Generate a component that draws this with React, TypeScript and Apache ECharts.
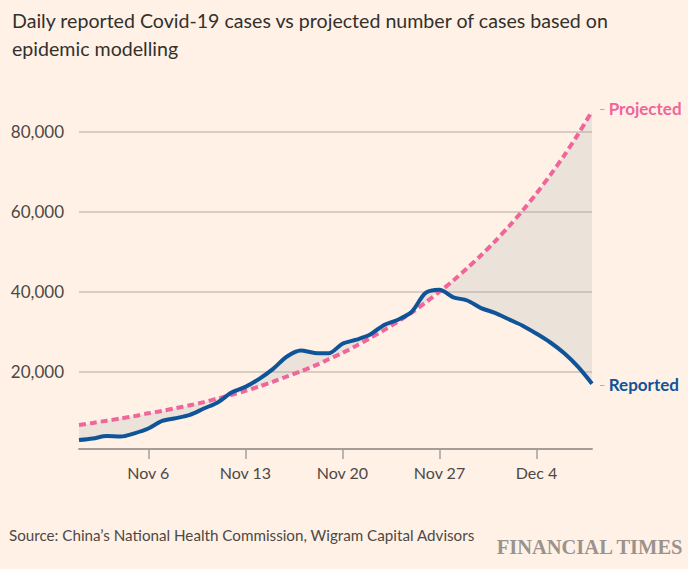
import React, { useEffect, useRef } from "react";
import * as echarts from "echarts";

const categories = [
  "Nov 1", "Nov 2", "Nov 3", "Nov 4", "Nov 5", "Nov 6", "Nov 7", "Nov 8", "Nov 9", "Nov 10",
  "Nov 11", "Nov 12", "Nov 13", "Nov 14", "Nov 15", "Nov 16", "Nov 17", "Nov 18", "Nov 19", "Nov 20",
  "Nov 21", "Nov 22", "Nov 23", "Nov 24", "Nov 25", "Nov 26", "Nov 27", "Nov 28", "Nov 29", "Nov 30",
  "Dec 1", "Dec 2", "Dec 3", "Dec 4", "Dec 5", "Dec 6", "Dec 7", "Dec 8",
];

const reported = [
  2900, 3300, 3900, 3800, 4600, 5800, 7700, 8400, 9200, 10800,
  12300, 14800, 16200, 18200, 20700, 23800, 25300, 24700, 24600, 27000,
  28000, 29300, 31700, 33000, 35000, 39700, 40500, 38600, 37800, 35900,
  34700, 33100, 31500, 29500, 27300, 24600, 21200, 17000,
];

const projected = [
  6700, 7200, 7750, 8300, 8900, 9600, 10200, 10900, 11600, 12400,
  13300, 14200, 15200, 16300, 17500, 18800, 20100, 21500, 23100, 24700,
  26500, 28400, 30400, 32500, 34800, 37300, 40000, 42800, 45900, 49100,
  52600, 56300, 60300, 64600, 69200, 74100, 79400, 85100,
];

const yTicks = [0, 20000, 40000, 60000, 80000];

const titleText = "Daily reported Covid-19 cases vs projected number of cases based on\nepidemic modelling";
const sourceText = "Source: China\u2019s National Health Commission, Wigram Capital Advisors";

const FONT = "Lato, 'Open Sans', sans-serif";
const PINK = "#f0659a";
const BLUE = "#0f5499";

export default function App() {
  const ref = useRef<HTMLDivElement>(null);

  useEffect(() => {
    document.body.style.margin = "0";
    if (!ref.current) return;
    const chart = echarts.init(ref.current, null, { renderer: "svg" });

    const lower = reported.map((v, i) => Math.min(v, projected[i]));
    const gap = reported.map((v, i) => Math.abs(v - projected[i]));
    const showIdx = (i: number) => i % 7 === 5;

    chart.setOption({
      animation: false,
      backgroundColor: "#fff1e5",
      title: {
        text: titleText,
        left: 7,
        top: 1,
        textStyle: {
          fontFamily: FONT,
          fontSize: 19.6,
          fontWeight: "normal",
          color: "#33302e",
          lineHeight: 28,
        },
      },
      grid: { left: 79, right: 96, top: 131.7, bottom: 117.3, containLabel: false },
      xAxis: {
        type: "category",
        data: categories,
        boundaryGap: false,
        offset: -2.7,
        axisLine: { show: true, lineStyle: { color: "#a59e98", width: 2 } },
        axisTick: { show: true, interval: (i: number) => showIdx(i), length: 10, lineStyle: { color: "#a59e98", width: 1.5 } },
        axisLabel: {
          interval: (i: number) => showIdx(i),
          color: "#4d4845",
          fontFamily: FONT,
          fontSize: 16,
          margin: 15,
        },
        splitLine: { show: false },
      },
      yAxis: {
        type: "value",
        min: yTicks[0],
        max: yTicks[yTicks.length - 1],
        interval: 20000,
        axisLine: { show: false },
        axisTick: { show: false },
        axisLabel: {
          color: "#4d4845",
          fontFamily: FONT,
          fontSize: 17,
          margin: 15,
          formatter: (v: number) => (v === 0 ? "" : v.toLocaleString("en-US")),
        },
        splitLine: { show: true, showMinLine: false, lineStyle: { color: "#cbc0b6", width: 1.5 } },
      },
      series: [
        {
          name: "lower",
          type: "line",
          stack: "fill",
          data: lower,
          smooth: 0.3,
          symbol: "none",
          clip: false,
          lineStyle: { opacity: 0 },
          silent: true,
          z: 1,
        },
        {
          name: "gap",
          type: "line",
          stack: "fill",
          data: gap,
          smooth: 0.3,
          symbol: "none",
          clip: false,
          lineStyle: { opacity: 0 },
          areaStyle: { color: "rgba(160,168,178,0.3)" },
          silent: true,
          z: 1,
        },
        {
          name: "Projected",
          type: "line",
          data: projected,
          smooth: 0.3,
          symbol: "none",
          clip: false,
          lineStyle: { color: PINK, width: 4, type: [7, 4] },
          z: 3,
          endLabel: {
            show: true,
            distance: 7,
            offset: [0, -3],
            formatter: "{d|\u2013} {n|Projected}",
            rich: {
              d: { color: "#a59e98", fontSize: 11, fontFamily: FONT },
              n: { color: PINK, fontSize: 17, fontWeight: "bold", fontFamily: FONT },
            },
          },
        },
        {
          name: "Reported",
          type: "line",
          data: reported,
          smooth: 0.3,
          symbol: "none",
          clip: false,
          lineStyle: { color: BLUE, width: 4 },
          z: 4,
          endLabel: {
            show: true,
            distance: 7,
            offset: [0, 1],
            formatter: "{d|\u2013} {n|Reported}",
            rich: {
              d: { color: "#a59e98", fontSize: 11, fontFamily: FONT },
              n: { color: BLUE, fontSize: 17, fontWeight: "bold", fontFamily: FONT },
            },
          },
        },
      ],
      graphic: [
        {
          type: "text",
          left: 9,
          top: 527,
          style: { text: sourceText, fill: "#4d4845", font: `15.2px ${FONT}` },
        },
        {
          type: "text",
          right: 4,
          top: 536,
          style: {
            text: "FINANCIAL TIMES",
            fill: "#9a938d",
            font: "bold 20.5px 'Liberation Serif', 'DejaVu Serif', serif",
          },
        },
      ],
    });

    return () => chart.dispose();
  }, []);

  return <div ref={ref} style={{ width: 688, height: 569 }} />;
}
